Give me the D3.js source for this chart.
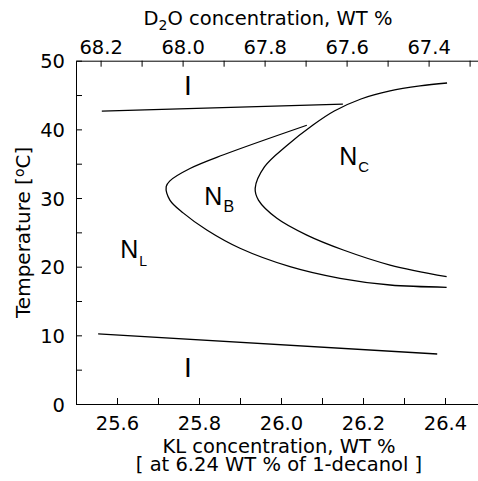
<!DOCTYPE html>
<html lang="en">
<head>
  <meta charset="UTF-8">
  <title>KL / D2O phase diagram</title>
  <script src="https://cdn.jsdelivr.net/npm/d3@7/dist/d3.min.js"></script>
  <style>
    html, body { margin: 0; padding: 0; background: #fff; }
    text { font-family: 'DejaVu Sans', sans-serif; fill: #000; }
    .phase { font-family: 'Liberation Sans', Arial, sans-serif; }
  </style>
</head>
<body>
  <svg id="chart"></svg>
  <script>
    //
    // Data
    //

    // decanol is fixed, so D2O = 100 - 6.24 - KL
    var decanol = 6.24
    var klDomain = [25.5, 26.5]
    var tempDomain = [0, 50]

    var klTicks = [25.6, 25.8, 26.0, 26.2, 26.4]
    var d2oTicks = [68.2, 68.0, 67.8, 67.6, 67.4]
    var tempTicks = [0, 10, 20, 30, 40, 50]

    // phase boundaries, [KL wt %, temperature]
    var upperIsotropic = [[25.563, 42.65], [26.151, 43.67]]
    var lowerIsotropic = [[25.554, 10.2], [26.381, 7.28]]
    var biaxialBoundary = [
      [26.063, 40.6], [25.86, 36.3], [25.778, 34.3], [25.729, 32.5],
      [25.72, 31.65], [25.729, 29.7], [25.762, 27.8], [25.819, 25.34],
      [25.9, 22.68], [26.022, 20.0], [26.144, 18.3], [26.266, 17.33],
      [26.404, 17.0]
    ]
    var calamiticBoundary = [
      [26.405, 46.75], [26.339, 46.32], [26.266, 45.59], [26.195, 44.42],
      [26.13, 42.67], [26.078, 40.63], [26.013, 37.58], [25.96, 34.56],
      [25.937, 31.4], [25.945, 29.7], [25.99, 27.05], [26.063, 24.6],
      [26.152, 22.43], [26.266, 20.24], [26.404, 18.54]
    ]

    // phase labels: name, subscript, KL, temperature
    var phaseNames = ['I', 'I', 'N', 'N', 'N']
    var phaseSubs = ['', '', 'L', 'B', 'C']
    var phaseKL = [25.773, 25.773, 25.608, 25.813, 26.142]
    var phaseTemp = [45.0, 3.93, 21.22, 28.98, 34.81]

    //
    // Layout
    //

    var width = 478
    var height = 481
    var margin = { top: 60.7, left: 76, bottom: 77 }
    var plotW = 410
    var plotH = height - margin.top - margin.bottom
    var fontSize = 19.5
    var subSize = { L: 14, B: 16, C: 15 }

    var svg = d3.select('#chart').attr('width', width).attr('height', height)
    var g = svg.append('g').attr('transform', 'translate(' + margin.left + ',' + margin.top + ')')

    var x = d3.scaleLinear().domain(klDomain).range([0, plotW])
    var xTop = d3.scaleLinear()
      .domain(klDomain.map(function (d) { return 100 - decanol - d }))
      .range([0, plotW])
    var y = d3.scaleLinear().domain(tempDomain).range([plotH, 0])

    function near(list, v) {
      return list.some(function (t) { return Math.abs(t - v) < 1e-6 })
    }

    //
    // Axes
    //

    var minorKL = d3.range(25.6, 26.55, 0.1).map(function (d) { return +d.toFixed(1) })
    var minorD2O = d3.range(68.2, 67.25, -0.1).map(function (d) { return +d.toFixed(1) })
    var minorTemp = d3.range(0, 51, 5)

    g.append('g')
      .attr('transform', 'translate(0,' + plotH + ')')
      .call(d3.axisBottom(x).tickValues(minorKL).tickSizeInner(-6).tickSizeOuter(0).tickPadding(12)
        .tickFormat(function (d) { return near(klTicks, d) ? d.toFixed(1) : '' }))

    g.append('g')
      .call(d3.axisTop(xTop).tickValues(minorD2O).tickSizeInner(-6).tickSizeOuter(0).tickPadding(7)
        .tickFormat(function (d) { return near(d2oTicks, d) ? d.toFixed(1) : '' }))

    var left = g.append('g')
      .call(d3.axisLeft(y).tickValues(minorTemp).tickSizeInner(-6).tickSizeOuter(0).tickPadding(11)
        .tickFormat(function (d) { return near(tempTicks, d) ? d : '' }))

    g.selectAll('.tick text').attr('font-size', fontSize).attr('font-family', 'DejaVu Sans, sans-serif').attr('fill', '#000')
    g.selectAll('.domain, .tick line').attr('stroke', '#000')
    left.selectAll('.tick text').attr('dy', '0.36em')

    // axis titles
    svg.append('text')
      .attr('x', 279).attr('y', 453)
      .attr('text-anchor', 'middle').attr('font-size', fontSize)
      .text('KL concentration, WT %')
    svg.append('text')
      .attr('x', 279).attr('y', 471)
      .attr('text-anchor', 'middle').attr('font-size', fontSize)
      .text('[ at 6.24 WT % of 1-decanol ]')

    var title = svg.append('text')
      .attr('x', 268).attr('y', 25)
      .attr('text-anchor', 'middle').attr('font-size', fontSize)
    title.append('tspan').text('D')
    title.append('tspan').attr('font-size', 14).attr('dy', 5).text('2')
    title.append('tspan').attr('dy', -5).text('O concentration, WT %')

    var ylab = svg.append('text')
      .attr('transform', 'translate(30,' + (margin.top + y(25)) + ') rotate(-90)')
      .attr('text-anchor', 'middle').attr('font-size', 20)
    ylab.append('tspan').text('Temperature [')
    ylab.append('tspan').attr('font-size', 14).attr('dy', -6).text('o')
    ylab.append('tspan').attr('dy', 6).text('C]')

    //
    // Phase boundaries
    //

    var straight = d3.line().x(function (d) { return x(d[0]) }).y(function (d) { return y(d[1]) })
    var smooth = d3.line().x(function (d) { return x(d[0]) }).y(function (d) { return y(d[1]) })
      .curve(d3.curveCatmullRom.alpha(0.5))

    var lines = g.append('g').attr('fill', 'none').attr('stroke', '#000').attr('stroke-width', 1.3)
    lines.append('path').attr('d', straight(upperIsotropic))
    lines.append('path').attr('d', straight(lowerIsotropic))
    lines.append('path').attr('d', smooth(biaxialBoundary))
    lines.append('path').attr('d', smooth(calamiticBoundary))

    //
    // Phase labels
    //

    phaseNames.forEach(function (name, i) {
      var t = g.append('text').attr('class', 'phase')
        .attr('x', x(phaseKL[i])).attr('y', y(phaseTemp[i]))
        .attr('font-size', name === 'I' ? 28 : 25)
        .attr('text-anchor', name === 'I' ? 'middle' : 'start')
      t.append('tspan').text(name)
      if (phaseSubs[i]) {
        var s = phaseSubs[i]
        t.append('tspan').attr('font-size', subSize[s]).attr('dx', 1)
          .attr('dy', s === 'L' ? 7.7 : 6.7).text(s)
      }
    })
  </script>
</body>
</html>
